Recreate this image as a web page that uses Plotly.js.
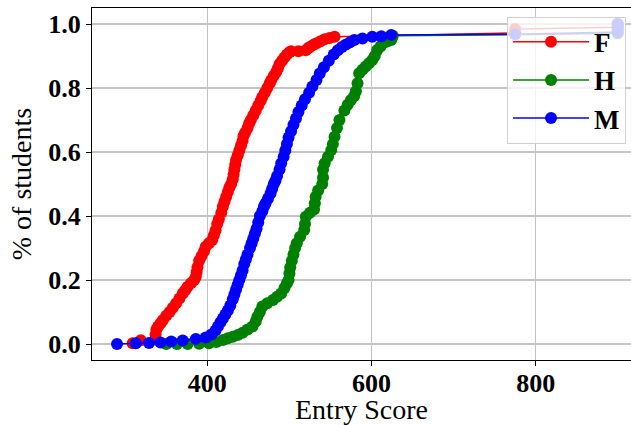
<!DOCTYPE html>
<html>
<head>
<meta charset="utf-8">
<script src="https://cdn.plot.ly/plotly-3.0.1.min.js"></script>
<style>html,body{margin:0;padding:0;background:#fff;overflow:hidden}#chart{width:631px;height:425px}</style>
</head>
<body>
<div id="chart"></div>
<script>
// Group names
const groups = ["F", "H", "M"];
const groupColors = ["#ff0000", "#008000", "#0000ff"];

// F: entry score vs cumulative share of students
const fScore = [309, 319, 337, 337, 338, 340, 343, 346, 350, 354, 358, 362, 366, 370, 373, 376, 380, 384, 386, 387, 388, 390, 393, 396, 398, 402, 406, 408, 410, 412, 414, 417, 419, 421, 423, 425, 427, 429, 431, 432, 433, 434, 435, 437, 439, 441, 443, 444, 446, 449, 451, 453, 456, 459, 462, 465, 467, 470, 473, 476, 478, 481, 484, 486, 488, 491, 494, 497, 500, 502, 511, 520, 523, 526, 530, 533, 538, 543, 549, 555, 775, 775, 900, 900];
const fShare = [0.002, 0.012, 0.015, 0.03, 0.045, 0.055, 0.065, 0.075, 0.088, 0.1, 0.113, 0.127, 0.142, 0.158, 0.168, 0.179, 0.19, 0.2, 0.21, 0.225, 0.24, 0.26, 0.275, 0.29, 0.304, 0.315, 0.325, 0.34, 0.355, 0.375, 0.39, 0.41, 0.43, 0.445, 0.46, 0.475, 0.49, 0.5, 0.515, 0.53, 0.545, 0.56, 0.575, 0.59, 0.605, 0.62, 0.635, 0.65, 0.66, 0.675, 0.69, 0.7, 0.715, 0.73, 0.745, 0.76, 0.772, 0.785, 0.8, 0.815, 0.825, 0.838, 0.85, 0.862, 0.875, 0.885, 0.895, 0.905, 0.912, 0.915, 0.915, 0.918, 0.925, 0.93, 0.936, 0.94, 0.946, 0.952, 0.956, 0.96, 0.972, 0.984, 0.99, 1.0];

// H
const hScore = [350, 363, 376, 390, 402, 411, 419, 425, 431, 437, 443, 449, 455, 459, 461, 464, 467, 473, 480, 485, 490, 494, 497, 499, 500, 501, 503, 505, 507, 509, 513, 518, 519, 520, 525, 530, 531, 532, 535, 540, 541, 541, 543, 547, 551, 553, 555, 558, 561, 567, 571, 575, 579, 581, 583, 585, 589, 593, 597, 601, 604, 607, 611, 614, 619, 624, 625, 626, 900, 900, 900, 900];
const hShare = [0.0, 0.0, 0.0, 0.001, 0.002, 0.006, 0.0125, 0.018, 0.023, 0.028, 0.035, 0.045, 0.055, 0.07, 0.085, 0.1, 0.117, 0.127, 0.1375, 0.148, 0.158, 0.175, 0.19, 0.2, 0.22, 0.24, 0.26, 0.28, 0.3, 0.315, 0.335, 0.356, 0.375, 0.398, 0.41, 0.42, 0.44, 0.46, 0.48, 0.5, 0.52, 0.545, 0.565, 0.585, 0.606, 0.625, 0.648, 0.675, 0.7, 0.73, 0.748, 0.7625, 0.775, 0.79, 0.815, 0.846, 0.857, 0.867, 0.877, 0.8875, 0.9, 0.919, 0.93, 0.94, 0.945, 0.95, 0.958, 0.963, 0.97, 0.98, 0.99, 1.0];

// M
const mScore = [290, 313, 329, 343, 356, 370, 386, 398, 405, 410, 413, 416, 419, 422, 425, 428, 431, 433, 435, 437, 439, 441, 443, 445, 447, 449, 452, 454, 456, 458, 460, 462, 464, 467, 469, 471, 474, 477, 479, 481, 483, 485, 488, 490, 493, 495, 497, 499, 502, 505, 508, 511, 515, 519, 524, 528, 533, 537, 542, 548, 554, 559, 564, 569, 574, 579, 589, 601, 612, 624, 775, 900, 900, 900, 900];
const mShare = [0.0, 0.002, 0.003, 0.005, 0.008, 0.011, 0.016, 0.02, 0.03, 0.042, 0.055, 0.068, 0.08, 0.092, 0.105, 0.12, 0.14, 0.155, 0.17, 0.185, 0.2, 0.215, 0.23, 0.25, 0.265, 0.28, 0.3, 0.315, 0.33, 0.345, 0.36, 0.38, 0.4, 0.415, 0.43, 0.44, 0.455, 0.47, 0.485, 0.5, 0.51, 0.525, 0.545, 0.565, 0.585, 0.605, 0.625, 0.645, 0.665, 0.685, 0.705, 0.725, 0.745, 0.765, 0.785, 0.805, 0.825, 0.845, 0.865, 0.885, 0.905, 0.918, 0.928, 0.936, 0.943, 0.95, 0.955, 0.96, 0.962, 0.966, 0.968, 0.975, 0.985, 0.993, 1.0];

const xTitle = "Entry Score";
const yTitle = "% of students";

const seriesX = [fScore, hScore, mScore];
const seriesY = [fShare, hShare, mShare];

const serif = "Liberation Serif";

const traces = groups.map((g, i) => ({
  type: "scatter",
  mode: "lines+markers",
  name: "<b>" + g + "</b>",
  x: seriesX[i],
  y: seriesY[i],
  line: {color: groupColors[i], width: 1.5},
  marker: {color: groupColors[i], size: 12, line: {width: 0}}
}));

const layout = {
  width: 631,
  height: 425,
  margin: {l: 92, r: 0, t: 8, b: 65},
  paper_bgcolor: "#ffffff",
  plot_bgcolor: "#ffffff",
  showlegend: true,
  font: {family: serif, color: "#000000"},
  xaxis: {
    range: [259.5, 916.2],
    tick0: 0,
    dtick: 200,
    ticks: "outside",
    ticklen: 5,
    tickwidth: 1,
    tickcolor: "#000000",
    ticklabelstandoff: -5,
    showline: true,
    mirror: true,
    linecolor: "#000000",
    linewidth: 1,
    showgrid: true,
    gridcolor: "#c4c4c4",
    gridwidth: 1.2,
    zeroline: false,
    tickfont: {family: serif, size: 26, color: "#000000", weight: "bold"},
    title: {text: xTitle, font: {family: serif, size: 28, color: "#000000"}, standoff: 6}
  },
  yaxis: {
    range: [-0.05, 1.05],
    tick0: 0,
    dtick: 0.2,
    tickformat: ".1f",
    ticks: "outside",
    ticklen: 5,
    tickwidth: 1,
    tickcolor: "#000000",
    showline: true,
    mirror: false,
    linecolor: "#000000",
    linewidth: 1,
    showgrid: true,
    gridcolor: "#c4c4c4",
    gridwidth: 1.2,
    zeroline: false,
    tickfont: {family: serif, size: 26, color: "#000000", weight: "bold"},
    title: {text: yTitle, font: {family: serif, size: 28, color: "#000000"}, standoff: 8}
  },
  legend: {
    x: 0.77,
    y: 0.975,
    xanchor: "left",
    yanchor: "top",
    bgcolor: "rgba(255,255,255,0.8)",
    bordercolor: "#d0d0d0",
    borderwidth: 1,
    itemwidth: 76,
    font: {family: serif, size: 27, color: "#000000"},
    tracegroupgap: 0
  }
};

Plotly.newPlot("chart", traces, layout, {displayModeBar: false, staticPlot: true});
</script>
</body>
</html>
